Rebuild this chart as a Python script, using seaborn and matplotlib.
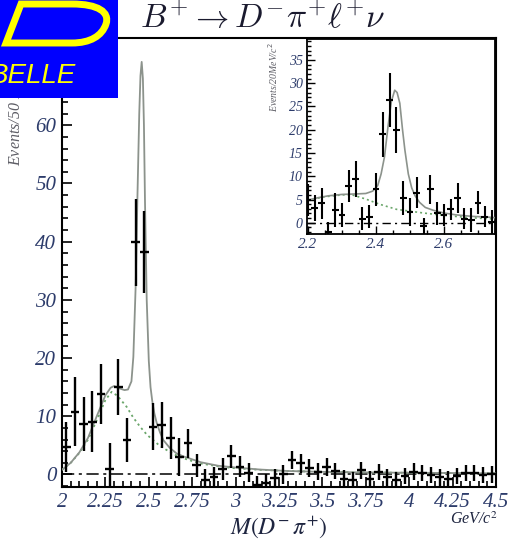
import numpy as np
import pandas as pd
import seaborn as sns
import matplotlib
matplotlib.use("Agg")
import matplotlib.pyplot as plt
from matplotlib.ticker import MultipleLocator, FixedLocator
from matplotlib.path import Path
from matplotlib.patches import PathPatch

# ---------------- data: main plot (50 MeV bins) ----------------
main_x = [2.025, 2.075, 2.125, 2.175, 2.225, 2.275, 2.325, 2.375, 2.425, 2.475,
          2.525, 2.575, 2.625, 2.675, 2.725, 2.775, 2.825, 2.875, 2.925, 2.975,
          3.025, 3.075, 3.125, 3.175, 3.225, 3.275, 3.325, 3.375, 3.425, 3.475,
          3.525, 3.575, 3.625, 3.675, 3.725, 3.775, 3.825, 3.875, 3.925, 3.975,
          4.025, 4.075, 4.125, 4.175, 4.225, 4.275, 4.325, 4.375, 4.425, 4.475]
main_y = [4.7, 10.8, 8.7, 9.1, 13.8, 0.9, 15.1, 5.9, 39.9, 38.2,
          8.2, 8.5, 6.2, 3.0, 5.4, 1.6, -0.9, -0.5, 1.0, 3.1,
          1.3, 0.3, -1.8, -1.5, -0.6, 0.0, 2.5, 1.9, 1.1, 0.5,
          1.3, 0.65, -0.7, -0.9, 0.7, -0.8, 0.4, -0.5, -0.9, -0.2,
          0.5, 0.2, -0.1, -0.5, -0.8, -0.3, 0.2, 0.2, -0.1, 0.0]
main_err = [4.3, 5.9, 4.6, 5.2, 5.2, 4.5, 4.8, 3.8, 7.5, 7.1,
            4.0, 4.0, 3.6, 3.2, 2.5, 2.0, 1.8, 1.8, 1.9, 2.0,
            1.8, 1.6, 1.6, 1.6, 1.6, 1.6, 1.6, 1.6, 1.5, 1.5,
            1.5, 1.4, 1.4, 1.4, 1.4, 1.4, 1.4, 1.4, 1.4, 1.4,
            1.4, 1.4, 1.4, 1.4, 1.4, 1.4, 1.4, 1.4, 1.4, 1.4]

# fit curves
tot_x = [2.00, 2.05, 2.10, 2.15, 2.20, 2.25, 2.28, 2.30, 2.33, 2.36, 2.38, 2.40,
         2.411, 2.425, 2.434, 2.445, 2.452, 2.459, 2.466, 2.472, 2.478, 2.488,
         2.500, 2.510, 2.520, 2.532, 2.546, 2.565, 2.584, 2.62, 2.661, 2.70,
         2.76, 2.80, 2.90, 3.00, 3.14, 3.30, 3.50, 3.75, 4.00, 4.25, 4.50]
tot_y = [0.8, 2.0, 3.8, 6.3, 10.0, 13.6, 14.9, 15.2, 14.8, 14.5, 14.6, 16.0,
         20.2, 33.0, 47.0, 62.0, 68.5, 70.9, 68.0, 60.0, 47.0, 30.0,
         19.5, 15.0, 12.6, 10.5, 8.8, 7.2, 5.9, 4.6, 3.6, 3.1,
         2.5, 2.1, 1.5, 1.2, 0.85, 0.6, 0.45, 0.35, 0.3, 0.25, 0.2]
bkg_x = [2.00, 2.05, 2.10, 2.15, 2.20, 2.25, 2.286, 2.32, 2.373, 2.41, 2.45, 2.49,
         2.526, 2.56, 2.603, 2.65, 2.699, 2.75, 2.795, 2.90, 2.986, 3.14, 3.30,
         3.50, 3.75, 4.00, 4.25, 4.50]
bkg_y = [0.8, 2.0, 3.7, 6.0, 9.3, 12.8, 14.2, 13.5, 11.6, 9.8, 8.2, 6.8,
         5.9, 5.0, 4.2, 3.4, 2.8, 2.3, 1.9, 1.4, 1.1, 0.8, 0.6,
         0.45, 0.35, 0.3, 0.25, 0.2]

main_xticks = [2, 2.25, 2.5, 2.75, 3, 3.25, 3.5, 3.75, 4, 4.25, 4.5]
main_xticklabels = ["2", "2.25", "2.5", "2.75", "3", "3.25", "3.5", "3.75", "4", "4.25", "4.5"]
main_yticks = [0, 10, 20, 30, 40, 50, 60]

# ---------------- data: inset (20 MeV bins) ----------------
ins_x = [2.20, 2.22, 2.24, 2.26, 2.28, 2.30, 2.32, 2.34, 2.36, 2.38, 2.40, 2.42,
         2.44, 2.46, 2.48, 2.50, 2.52, 2.54, 2.56, 2.58, 2.60, 2.62, 2.64, 2.66,
         2.68, 2.70, 2.72, 2.74]
ins_y = [4.9, 3.2, 4.2, -1.9, 2.7, 1.7, 7.9, 9.4, 0.9, 1.3, 7.2, 19.0,
         26.3, 19.9, 5.3, 2.4, 6.5, -0.7, 7.2, 2.0, 1.7, 2.9, 5.3, 0.9,
         0.6, 4.3, 1.3, 0.2]
ins_err = [3.5, 2.8, 3.3, 2.0, 3.6, 2.5, 3.4, 3.8, 2.5, 2.5, 3.6, 4.8,
           5.8, 5.0, 3.7, 3.0, 3.3, 1.8, 3.1, 2.5, 2.3, 2.3, 3.3, 2.3,
           2.5, 2.5, 2.3, 2.5]
ins_tot_x = [2.20, 2.23, 2.26, 2.30, 2.34, 2.37, 2.39, 2.405, 2.415, 2.425, 2.435,
             2.445, 2.455, 2.462, 2.47, 2.478, 2.485, 2.495, 2.505, 2.515, 2.528,
             2.545, 2.568, 2.60, 2.636, 2.68, 2.734, 2.75]
ins_tot_y = [4.9, 5.4, 5.8, 6.1, 6.2, 6.3, 6.8, 8.0, 10.5, 14.2, 20.5,
             26.0, 28.5, 28.0, 25.7, 20.0, 15.6, 10.5, 7.5, 5.8, 4.4,
             3.3, 2.7, 2.1, 1.7, 1.4, 1.2, 1.1]
ins_bkg_x = [2.20, 2.25, 2.30, 2.33, 2.37, 2.41, 2.46, 2.50, 2.54, 2.60, 2.66, 2.70, 2.75]
ins_bkg_y = [4.9, 5.6, 6.0, 6.0, 5.1, 4.0, 2.9, 2.5, 2.1, 1.6, 1.2, 1.0, 0.8]

ins_xticks = [2.2, 2.4, 2.6]
ins_yticks = [0, 5, 10, 15, 20, 25, 30, 35]

# ---------------- styling ----------------
sns.set_theme(style="ticks")
plt.rcParams["font.family"] = ["Liberation Serif", "DejaVu Serif"]
plt.rcParams["axes.linewidth"] = 1.5

W, H = 510, 542
fig = plt.figure(figsize=(W / 100, H / 100), dpi=100)
fig.patch.set_facecolor("white")

LBL = "#2d3c6b"
FIT = "#8c938c"
BKG = "#6aa66a"

def fx(px):
    return px / W

def fy(py):
    return 1 - py / H

# main axes
ax = fig.add_axes([fx(62), fy(487), fx(496) - fx(62), fy(38) - fy(487)])
ax.set_facecolor("white")

dm = pd.DataFrame({"x": main_x, "y": main_y, "e": main_err})
ax.axhline(0, color="black", lw=1.1, ls=(0, (8, 3, 2, 3)), zorder=2)
sns.lineplot(x=bkg_x, y=bkg_y, ax=ax, color=BKG, lw=1.3, linestyle=(0, (1.2, 1.8)), zorder=3)
sns.lineplot(x=tot_x, y=tot_y, ax=ax, color=FIT, lw=1.3, zorder=3)
ax.errorbar(dm["x"], dm["y"], yerr=dm["e"], xerr=0.025, fmt="none",
            ecolor="black", elinewidth=1.7, capsize=0, zorder=4)

ax.set_xlim(2.0, 4.5)
ax.set_ylim(-2.15, 75.0)
ax.xaxis.set_major_locator(FixedLocator(main_xticks))
ax.set_xticklabels(main_xticklabels)
ax.xaxis.set_minor_locator(MultipleLocator(0.05))
ax.yaxis.set_major_locator(FixedLocator(main_yticks))
ax.yaxis.set_minor_locator(MultipleLocator(2))
ax.tick_params(which="both", direction="in", top=False, right=False,
               colors="black", labelcolor=LBL, width=1.2)
ax.tick_params(which="major", length=7, labelsize=15, pad=4)
ax.tick_params(which="minor", length=4)
for lab in ax.get_xticklabels() + ax.get_yticklabels():
    lab.set_fontstyle("italic")
for s in ax.spines.values():
    s.set_visible(True)
    s.set_linewidth(1.5)
    s.set_color("black")
ax.set_xlabel("")
ax.set_ylabel("")

# main axis labels
fig.text(fx(16), fy(166), "Events/50 MeV/c$^2$", rotation=90, ha="center", va="bottom",
         fontsize=11.5, style="italic", color="#5e5e66")
fig.text(fx(279), fy(527), r"$M(D^{-}\,\pi^{+})$", ha="center", va="center",
         fontsize=17, color="#1e2540", math_fontfamily="stix")
fig.text(fx(474), fy(520), "GeV/c$^2$", ha="center", va="center",
         fontsize=11.5, style="italic", color="#1e2540", math_fontfamily="stix")

# inset axes
ins = fig.add_axes([fx(307), fy(233.5), fx(495) - fx(307), fy(39) - fy(233.5)])
ins.set_facecolor("white")
di = pd.DataFrame({"x": ins_x, "y": ins_y, "e": ins_err})
ins.axhline(0, color="black", lw=1.0, ls=(0, (6, 3, 1.5, 3)), zorder=2)
sns.lineplot(x=ins_bkg_x, y=ins_bkg_y, ax=ins, color=BKG, lw=1.2, linestyle=(0, (1.2, 1.8)), zorder=3)
sns.lineplot(x=ins_tot_x, y=ins_tot_y, ax=ins, color=FIT, lw=1.2, zorder=3)
ins.errorbar(di["x"], di["y"], yerr=di["e"], xerr=0.01, fmt="none",
             ecolor="black", elinewidth=1.5, capsize=0, zorder=4)
ins.set_xlim(2.197, 2.75)
ins.set_ylim(-2.3, 39.5)
ins.xaxis.set_major_locator(FixedLocator(ins_xticks))
ins.set_xticklabels(["2.2", "2.4", "2.6"])
ins.xaxis.set_minor_locator(MultipleLocator(0.05))
ins.yaxis.set_major_locator(FixedLocator(ins_yticks))
ins.yaxis.set_minor_locator(MultipleLocator(1))
ins.tick_params(which="both", direction="in", top=False, right=False,
                colors="black", labelcolor=LBL, width=1.0)
ins.tick_params(which="major", length=6, labelsize=10, pad=3)
ins.tick_params(which="minor", length=3)
for lab in ins.get_xticklabels() + ins.get_yticklabels():
    lab.set_fontstyle("italic")
for lab in ins.get_xticklabels():
    lab.set_fontsize(11)
for s in ins.spines.values():
    s.set_visible(True)
    s.set_linewidth(1.3)
    s.set_color("black")
ins.set_xlabel("")
ins.set_ylabel("")
fig.text(fx(273), fy(42), "Events/20MeV/c$^2$", rotation=90, ha="center", va="top",
         fontsize=7, style="italic", color="#5e5e66")

# title
fig.text(fx(263), fy(19), r"$B^{+}\rightarrow D^{-}\pi^{+}\ell^{+}\nu$", ha="center", va="center",
         fontsize=24, color="#1a1a2e", math_fontfamily="cm")

# BELLE logo
lg = fig.add_axes([0, fy(98), fx(118), fy(0) - fy(98)], zorder=10)
lg.set_facecolor("#0000ff")
lg.set_xlim(0, 118)
lg.set_ylim(98, 0)
lg.set_xticks([])
lg.set_yticks([])
for s in lg.spines.values():
    s.set_visible(False)
verts = [(6, 43), (21, 4), (72, 4),
         (98, 4), (110, 12), (106, 24),
         (102, 36), (90, 43), (72, 43),
         (6, 43), (6, 43)]
codes = [Path.MOVETO, Path.LINETO, Path.LINETO,
         Path.CURVE4, Path.CURVE4, Path.CURVE4,
         Path.CURVE4, Path.CURVE4, Path.CURVE4,
         Path.LINETO, Path.CLOSEPOLY]
lg.add_patch(PathPatch(Path(verts, codes), facecolor="none", edgecolor="#ffff00",
                       lw=5, joinstyle="miter"))
lg.text(-11, 83, "BELLE", ha="left", va="baseline", fontsize=20, style="italic",
        color="#ffff00", family="Liberation Sans", clip_on=True)

fig.savefig("out.png", dpi=100, facecolor="white")
